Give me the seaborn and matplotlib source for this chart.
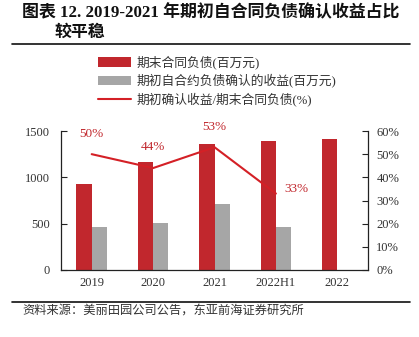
import numpy as np
import pandas as pd
import matplotlib
matplotlib.use("Agg")
import matplotlib.pyplot as plt
import seaborn as sns
from matplotlib.ticker import FuncFormatter
from matplotlib.patches import Patch
from matplotlib.lines import Line2D

categories = ["2019", "2020", "2021", "2022H1", "2022"]
contract_liab = [925, 1162, 1360, 1396, 1417]
recognized_rev = [460, 510, 716, 460, np.nan]
ratio_pct = [50, 44, 53, 33]
ratio_labels = ["50%", "44%", "53%", "33%"]
s_liab = "期末合同负债(百万元)"
s_rev = "期初自合约负债确认的收益(百万元)"
s_ratio = "期初确认收益/期末合同负债(%)"
title_l1 = "图表 12. 2019-2021 年期初自合同负债确认收益占比"
title_l2 = "较平稳"
source = "资料来源：美丽田园公司公告，东亚前海证券研究所"

RED = "#C1272D"
GRAY = "#A6A6A6"
LINE_RED = "#D42026"

sns.set_theme(style="white")
FONTS = ["Liberation Serif", "Noto Sans CJK SC", "DejaVu Sans"]
plt.rcParams["font.family"] = FONTS

df = pd.DataFrame({
    "cat": categories * 2,
    "series": [s_liab] * 5 + [s_rev] * 5,
    "val": contract_liab + recognized_rev,
})

fig = plt.figure(figsize=(4.19, 3.37), dpi=100)
ax = fig.add_axes([61 / 419, 67 / 337, 307 / 419, 139 / 337])
sns.barplot(data=df, x="cat", y="val", hue="series", order=categories,
            hue_order=[s_liab, s_rev], palette=[RED, GRAY], width=0.5,
            dodge=True, legend=False, ax=ax, saturation=1, edgecolor="none")
ax.set_xlim(-0.5, 4.5)
ax.set_ylim(0, 1500)
ax.set_yticks([0, 500, 1000, 1500])
ax.set_xlabel("")
ax.set_ylabel("")
for s in ["top", "right"]:
    ax.spines[s].set_visible(False)
for s in ["left", "bottom"]:
    ax.spines[s].set_color("#222222")
    ax.spines[s].set_linewidth(0.9)
ax.tick_params(axis="y", direction="in", length=4, width=0.8, color="#222222",
               labelsize=9, pad=8, left=True)
ax.tick_params(axis="x", length=0, labelsize=9, pad=5)
for lab in ax.get_xticklabels() + ax.get_yticklabels():
    lab.set_color("#333333")

ax2 = ax.twinx()
sns.lineplot(x=list(range(len(ratio_pct))), y=ratio_pct, color=LINE_RED,
             linewidth=1.5, ax=ax2)
ax2.set_ylim(0, 60)
ax2.set_yticks([0, 10, 20, 30, 40, 50, 60])
ax2.yaxis.set_major_formatter(FuncFormatter(lambda v, p: f"{int(v)}%"))
for s in ["top", "left", "bottom"]:
    ax2.spines[s].set_visible(False)
ax2.spines["right"].set_color("#222222")
ax2.spines["right"].set_linewidth(0.9)
ax2.tick_params(axis="y", direction="in", length=4, width=0.8, color="#222222",
                labelsize=9, pad=6, right=True)
for lab in ax2.get_yticklabels():
    lab.set_color("#333333")
ax.set_xlim(-0.5, 4.5)

offsets = [(0, 14.5), (0, 15), (0, 14.5), (14.5, 3)]
for i, (v, t) in enumerate(zip(ratio_pct, ratio_labels)):
    ax2.annotate(t, (i, v), xytext=offsets[i], textcoords="offset points",
                 ha="center", va="center", color=RED, fontsize=9.5)

# title
fig.text(22 / 419, 1 - 13 / 337, title_l1, ha="left", va="center",
         fontsize=12.2, fontweight="bold", color="#111111")
fig.text(55 / 419, 1 - 33 / 337, title_l2, ha="left", va="center",
         fontsize=12.2, fontweight="bold", color="#111111")
fig.add_artist(Line2D([12 / 419, 410 / 419], [1 - 44 / 337] * 2,
                      color="#111111", linewidth=1.2))

# legend
handles = [Patch(facecolor=RED, edgecolor="none"),
           Patch(facecolor=GRAY, edgecolor="none"),
           Line2D([0], [0], color=LINE_RED, linewidth=1.5)]
fig.legend(handles, [s_liab, s_rev, s_ratio], loc="upper left",
           bbox_to_anchor=(86 / 419, 1 - 44 / 337), frameon=False,
           fontsize=9.2, handlelength=2.6, handleheight=0.75,
           labelspacing=0.35, handletextpad=0.45, labelcolor="#333333")

# bottom rule and source
fig.add_artist(Line2D([12 / 419, 410 / 419], [1 - 302 / 337] * 2,
                      color="#111111", linewidth=1.2))
fig.text(22 / 419, 1 - 312 / 337, source, ha="left", va="center",
         fontsize=8.8, color="#333333")

fig.savefig("out.png", dpi=100)
